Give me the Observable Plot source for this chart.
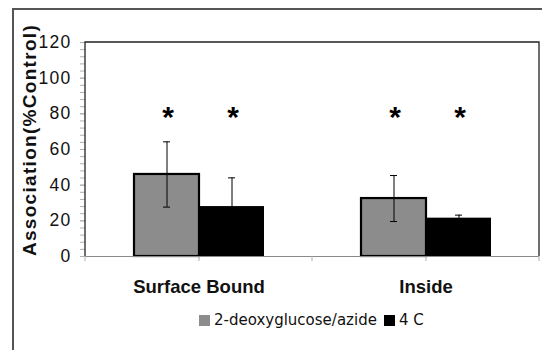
<!DOCTYPE html>
<html>
<head>
<meta charset="utf-8">
<script src="https://cdn.jsdelivr.net/npm/d3@7"></script>
<script src="https://cdn.jsdelivr.net/npm/@observablehq/plot@0.6"></script>
<style>
  html, body { margin: 0; padding: 0; background: #fff; }
  #wrap { position: relative; width: 542px; height: 350px; overflow: hidden; background: #fff; }
  #outer { position: absolute; left: 12px; top: 8px; width: 700px; height: 500px;
           border-left: 2px solid #555; border-top: 2px solid #555; }
  #chart { position: absolute; left: 0; top: 0; }
  #legend { position: absolute; left: 199px; top: 311px; display: flex; align-items: center;
            font-family: "DejaVu Sans", sans-serif; font-size: 15px; color: #111; white-space: nowrap; }
  .sw { display: inline-block; width: 11px; height: 11px; margin-right: 4px; }
  .item { display: flex; align-items: center; margin-right: 7px; }
</style>
</head>
<body>
<div id="wrap">
  <div id="outer"></div>
  <div id="chart"></div>
  <div id="legend"></div>
</div>
<script>
// ---- data ----
const categories = ["Surface Bound", "Inside"];
const seriesNames = ["2-deoxyglucose/azide", "4 C"];
const seriesColors = ["#8c8c8c", "#000000"];
const deoxyMeans = [46, 32.5];
const deoxyErrors = [18.3, 12.9];
const coldMeans = [28, 21.5];
const coldErrors = [16.1, 1.7];
const starLevel = [80, 80];          // height of the significance asterisks
const yTicks = [0, 20, 40, 60, 80, 100, 120];
const yMinorTicks = [0,4,8,12,16,20,24,28,32,36,40,44,48,52,56,60,64,68,72,76,80,84,88,92,96,100,104,108,112,116,120];
const yTitle = "Association(%Control)";

// ---- table ----
const rows = [];
categories.forEach((c, i) => {
  rows.push({cat: c, ser: seriesNames[0], mean: deoxyMeans[i], err: deoxyErrors[i], star: starLevel[i]});
  rows.push({cat: c, ser: seriesNames[1], mean: coldMeans[i], err: coldErrors[i], star: starLevel[i]});
});
const grayRows = rows.filter(d => d.ser === seriesNames[0]);
const blackRows = rows.filter(d => d.ser === seriesNames[1]);

const W = 542, H = 305;
const chart = Plot.plot({
  width: W,
  height: H,
  marginLeft: 85,
  marginRight: 3,
  marginTop: 42,
  marginBottom: 49,
  style: {fontFamily: "'Liberation Sans', Arial, sans-serif", background: "transparent", overflow: "visible"},
  fx: {domain: categories, padding: 0, label: null},
  x: {domain: seriesNames, paddingInner: 0, paddingOuter: 0.745, axis: null},
  y: {domain: [0, 120], label: null},
  color: {domain: seriesNames, range: seriesColors},
  marks: [
    Plot.axisY({ticks: yMinorTicks, tickSize: 5, text: null, stroke: "#b0b0b0", label: null}),
    Plot.axisY({ticks: yTicks, tickSize: 5, tickPadding: 9, stroke: "#b0b0b0", fill: "#111",
                fontSize: 17.5, label: null, tickFormat: d => String(d)}),
    Plot.axisFx({anchor: "bottom", tickSize: 5, text: null, stroke: "#b0b0b0", label: null}),
    Plot.axisFx({anchor: "bottom", tickSize: 0, tickPadding: 23, fontSize: 18.5, fontWeight: "bold",
                 fill: "#111", label: null}),
    Plot.barY(blackRows, {fx: "cat", x: "ser", y: "mean", fill: "ser"}),
    Plot.barY(grayRows, {fx: "cat", x: "ser", y: "mean", fill: "ser", stroke: "#000", strokeWidth: 2.2}),
    Plot.ruleX(rows, {fx: "cat", x: "ser", y1: d => d.mean - d.err, y2: d => d.mean + d.err, stroke: "#000", strokeWidth: 1}),
    Plot.tickY(rows, {fx: "cat", x: "ser", y: d => d.mean + d.err, stroke: "#000", insetLeft: 29, insetRight: 29}),
    Plot.tickY(rows, {fx: "cat", x: "ser", y: d => d.mean - d.err, stroke: "#000", insetLeft: 29, insetRight: 29}),
    Plot.text(rows, {fx: "cat", x: "ser", y: "star", text: () => "*", fontSize: 30, fontWeight: "bold",
                     fill: "#000", dy: 4, dx: 1}),
    Plot.ruleY([0], {stroke: "#8a8a8a", strokeWidth: 1.2})
  ]
});

// plot-area border (top, left, right) and category boundary ticks, placed through the scales
const fx = chart.scale("fx"), y = chart.scale("y");
const x0 = fx.apply(categories[0]);
const x1 = fx.apply(categories[categories.length - 1]) + fx.bandwidth;
const yTop = y.apply(120), yBot = y.apply(0);
const svg = d3.select(chart);
const bounds = categories.map(c => fx.apply(c)).concat([x1]);
svg.append("g").selectAll("line").data(bounds).join("line")
  .attr("x1", d => d).attr("x2", d => d).attr("y1", yBot).attr("y2", yBot + 5)
  .attr("stroke", "#b0b0b0");
svg.append("path")
  .attr("d", `M${x0},${yBot}V${yTop}H${x1}V${yBot}`)
  .attr("fill", "none").attr("stroke", "#222").attr("stroke-width", 1.3);
// y-axis title
svg.append("text")
  .attr("transform", `translate(29,${(yTop + yBot) / 2 - 9}) rotate(-90)`)
  .attr("text-anchor", "middle").attr("dy", "0.35em")
  .attr("font-family", "'Liberation Sans', Arial, sans-serif")
  .attr("font-size", 19).attr("font-weight", "bold").attr("letter-spacing", "1.3px")
  .attr("fill", "#111")
  .text(yTitle);
// stretch tick label spacing a little like the original
svg.selectAll("text").filter(function() { return /^\d+$/.test(this.textContent); })
  .attr("letter-spacing", "1.3px");

document.getElementById("chart").appendChild(chart);

// legend
const legend = d3.select("#legend");
seriesNames.forEach((s, i) => {
  const it = legend.append("div").attr("class", "item");
  it.append("span").attr("class", "sw").style("background", seriesColors[i]);
  it.append("span").text(s);
});
</script>
</body>
</html>
